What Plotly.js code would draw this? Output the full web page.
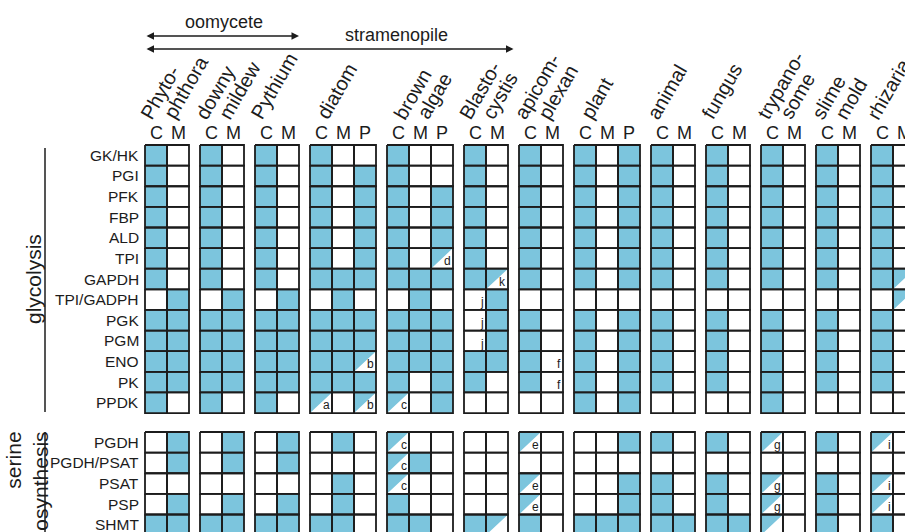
<!DOCTYPE html>
<html><head><meta charset="utf-8">
<script src="https://cdn.plot.ly/plotly-3.0.1.min.js"></script>
<style>html,body{margin:0;padding:0;background:#fff;}#chart{width:905px;height:532px;}</style>
</head><body><div id="chart"></div>
<script>
// ---------------- data ----------------
const organisms = ["Phyto-<br>phthora","downy<br>mildew","Pythium","diatom","brown<br>algae","Blasto-<br>cystis","apicom-<br>plexan","plant","animal","fungus","trypano-<br>some","slime<br>mold","rhizaria"];
const compartments = ["CM","CM","CM","CMP","CMP","CM","CM","CMP","CM","CM","CM","CM","CM"];
const glycolysisEnzymes = ["GK/HK","PGI","PFK","FBP","ALD","TPI","GAPDH","TPI/GADPH","PGK","PGM","ENO","PK","PPDK"];
const serineEnzymes = ["PGDH","PGDH/PSAT","PSAT","PSP","SHMT"];
// tokens: 1 = present, 0 = absent, /x = partial (note x), 0x = absent with note x
const glycolysisCells = [
 "1 0|1 0|1 0|1 0 0|1 0 0|1 0|1 0|1 0 1|1 0|1 0|1 0|1 0|1 0",
 "1 0|1 0|1 0|1 0 1|1 0 0|1 0|1 0|1 0 1|1 0|1 0|1 0|1 0|1 0",
 "1 0|1 0|1 0|1 0 1|1 0 1|1 0|1 0|1 0 1|1 0|1 0|1 0|1 0|1 0",
 "1 0|1 0|1 0|1 0 1|1 0 1|1 0|1 0|1 0 1|1 0|1 0|1 0|1 0|1 0",
 "1 0|1 0|1 0|1 0 1|1 0 1|1 0|1 0|1 0 1|1 0|1 0|1 0|1 0|1 0",
 "1 0|1 0|1 0|1 0 1|1 0 /d|1 0|1 0|1 0 1|1 0|1 0|1 0|1 0|1 0",
 "1 0|1 0|1 0|1 1 1|1 1 1|1 /k|1 0|1 0 1|1 0|1 0|1 0|1 0|1 /",
 "0 1|0 1|0 1|0 1 0|0 1 0|0j 1|0 0|0 0 0|0 0|0 0|0 0|0 0|0 /",
 "1 1|1 1|1 1|1 1 1|1 1 1|0j 1|1 0|1 0 1|1 0|1 0|1 0|1 0|1 0",
 "1 1|1 1|1 1|1 1 1|1 1 1|0j 1|1 0|1 0 1|1 0|1 0|1 0|1 0|1 0",
 "1 1|1 1|1 1|1 1 /b|1 1 1|1 1|1 0f|1 0 1|1 0|1 0|1 0|1 0|1 0",
 "1 1|1 1|1 1|1 1 1|1 0 1|1 0|1 0f|1 0 1|1 0|1 0|1 0|1 0|1 0",
 "1 0|1 0|1 0|/a 0 /b|/c 0 1|0 0|0 0|1 0 1|0 0|0 0|1 0|0 0|0 0"
];
const serineCells = [
 "0 1|0 1|0 1|0 1 0|/c 0 0|0 0|/e 0|0 0 1|1 0|1 0|/g 0|1 0|/i 0",
 "0 1|0 1|0 1|0 0 0|/c 1 0|0 0|0 0|0 0 0|0 0|0 0|0 0|0 0|0 0",
 "0 0|0 0|0 0|0 1 0|/c 0 0|0 0|/e 0|0 0 1|1 0|1 0|/g 0|1 0|/i 0",
 "0 1|0 1|0 1|0 1 0|1 0 0|0 0|/e 0|0 0 1|1 0|1 0|/g 0|1 0|/i 0",
 "1 1|1 1|1 1|1 1 0|1 1 0|1 /k|1 0|1 1 1|1 1|1 1|/g 0|1 0|1 0"
];

// ---------------- geometry helpers ----------------
const X0PX = 145, CW = 22, Y0PX = 145, RH = 20.62;
const ax = px => (px - X0PX) / CW;
const ay = py => (py - Y0PX) / RH;
const SER_TOP = ay(432);
const BLUE = '#7CC5DD', INK = '#1c1c1c';
const FONT = 'Liberation Sans, Arial, sans-serif';

const groupLeft = [];
{ let acc = 0; compartments.forEach(c => { groupLeft.push(acc); acc += c.length + 0.5; }); }

const fillX = [], fillY = [], lineX = [], lineY = [];
const annotations = [];

function addPoly(xs, ys, pts) { pts.forEach(p => { xs.push(p[0]); ys.push(p[1]); }); xs.push(null); ys.push(null); }

function drawBlock(rows, top) {
  rows.forEach((rowStr, r) => {
    const groups = rowStr.split('|');
    groups.forEach((gs, g) => {
      const toks = gs.trim().split(/\s+/);
      toks.forEach((tok, k) => {
        const x0 = groupLeft[g] + k, x1 = x0 + 1, y0 = top + r, y1 = y0 + 1;
        let note = '';
        if (tok === '1') {
          addPoly(fillX, fillY, [[x0,y0],[x1,y0],[x1,y1],[x0,y1],[x0,y0]]);
        } else if (tok[0] === '/') {
          addPoly(fillX, fillY, [[x0,y0],[x1,y0],[x0,y1],[x0,y0]]);
          note = tok.slice(1);
        } else if (tok.length > 1) {
          note = tok.slice(1);
        }
        addPoly(lineX, lineY, [[x0,y0],[x1,y0],[x1,y1],[x0,y1],[x0,y0]]);
        if (note) {
          annotations.push({xref:'x', yref:'y', x: x1 - 0.06, y: y1 + 0.02, xanchor:'right', yanchor:'bottom',
            text: note, showarrow:false, borderpad:0, font:{family:FONT, size:12, color:INK}});
        }
      });
    });
  });
}
drawBlock(glycolysisCells, 0);
drawBlock(serineCells, SER_TOP);

// row labels
const ROWFONT = {family:FONT, size:15.5, color:INK};
glycolysisEnzymes.forEach((t, i) => annotations.push({xref:'x', yref:'y', x: ax(141), y: i + 0.5, xanchor:'right', yanchor:'middle',
  text: t, showarrow:false, font:ROWFONT}));
serineEnzymes.forEach((t, i) => annotations.push({xref:'x', yref:'y', x: ax(141), y: SER_TOP + i + 0.5, xanchor:'right', yanchor:'middle',
  text: t, showarrow:false, font:ROWFONT}));

// compartment headers and organism labels (each line rotated 60°, anchored at its start)
const LBL_SIZE = 20, LBL_BOX = 23;
compartments.forEach((c, g) => {
  c.split('').forEach((ch, k) => annotations.push({xref:'x', yref:'y', x: groupLeft[g] + k + 0.5, y: ay(133), xanchor:'center', yanchor:'middle',
    text: ch, showarrow:false, font:{family:FONT, size:18, color:INK}}));
  const centerPx = X0PX + CW * (groupLeft[g] + c.length / 2);
  organisms[g].split('<br>').forEach((line, li) => {
    const startPx = centerPx - 12 + li * 23;
    annotations.push({xref:'x', yref:'y', x: ax(startPx - 0.866 * LBL_BOX), y: ay(124), xanchor:'left', yanchor:'bottom',
      text: line, textangle:-60, showarrow:false, borderpad:0, font:{family:FONT, size:LBL_SIZE, color:INK}});
  });
});

// pathway labels
annotations.push({xref:'x', yref:'y', x: ax(33), y: 6.5, text:'glycolysis', textangle:-90, showarrow:false,
  xanchor:'center', yanchor:'middle', font:{family:FONT, size:21, color:INK}});
annotations.push({xref:'x', yref:'y', x: ax(27), y: ay(429), text:'serine<br>biosynthesis', textangle:-90, align:'right', showarrow:false,
  xanchor:'center', yanchor:'top', font:{family:FONT, size:21, color:INK}});

// clade labels and arrows
const oomyRight = groupLeft[2] + compartments[2].length;
const stramRight = groupLeft[5] + compartments[5].length + 0.25;
annotations.push({xref:'x', yref:'y', x: ax(224), y: ay(22), text:'oomycete', showarrow:false, font:{family:FONT, size:18, color:INK}});
annotations.push({xref:'x', yref:'y', x: ax(396), y: ay(35), text:'stramenopile', showarrow:false, font:{family:FONT, size:18, color:INK}});
[[oomyRight, ay(36)], [stramRight, ay(49)]].forEach(([xr, yy]) => annotations.push({
  xref:'x', yref:'y', axref:'x', ayref:'y', x: xr, y: yy, ax: 0, ay: yy, text:'', showarrow:true,
  arrowhead:2, arrowside:'end+start', arrowsize:1, arrowwidth:1.5, arrowcolor:INK, standoff:0, startstandoff:0}));

const shapes = [
  {type:'line', xref:'x', yref:'y', x0: ax(45), x1: ax(45), y0: ay(148), y1: ay(412), line:{color:INK, width:1.5}},
  {type:'line', xref:'x', yref:'y', x0: ax(45), x1: ax(45), y0: ay(432), y1: ay(560), line:{color:INK, width:1.5}}
];

const traces = [
  {type:'scatter', mode:'lines', x: fillX, y: fillY, fill:'toself', fillcolor: BLUE, line:{width:0, color:BLUE}, hoverinfo:'skip', connectgaps:false},
  {type:'scatter', mode:'lines', x: lineX, y: lineY, line:{width:1.8, color:INK}, hoverinfo:'skip', connectgaps:false}
];

const layout = {
  width: 905, height: 532, margin:{l:0, r:0, t:0, b:0},
  paper_bgcolor:'#fff', plot_bgcolor:'#fff', showlegend:false,
  xaxis:{range:[ax(0), ax(905)], visible:false, fixedrange:true},
  yaxis:{range:[ay(532), ay(0)], visible:false, fixedrange:true},
  annotations, shapes
};
Plotly.newPlot('chart', traces, layout, {displayModeBar:false, staticPlot:true});
</script></body></html>
